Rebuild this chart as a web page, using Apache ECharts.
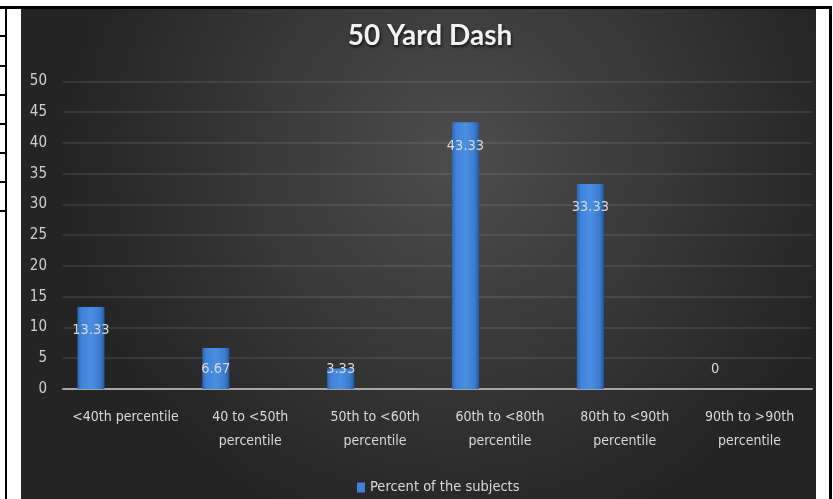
<!DOCTYPE html>
<html>
<head>
<meta charset="utf-8">
<script src="https://cdn.jsdelivr.net/npm/echarts@6/dist/echarts.min.js"></script>
<style>
  html, body { margin: 0; padding: 0; background: #ffffff; width: 833px; height: 499px; overflow: hidden; position: relative; }
  .ln { position: absolute; background: #000; }
  #chart { position: absolute; left: 21px; top: 9px; width: 795px; height: 490px; }
</style>
</head>
<body>
<div class="ln" style="left:0;top:6px;width:832px;height:3px"></div>
<div class="ln" style="left:5px;top:6px;width:2px;height:493px"></div>
<div class="ln" style="left:829px;top:6px;width:3px;height:493px"></div>
<div class="ln" style="left:0;top:35px;width:6px;height:2px"></div>
<div class="ln" style="left:0;top:65px;width:6px;height:2px"></div>
<div class="ln" style="left:0;top:94px;width:6px;height:2px"></div>
<div class="ln" style="left:0;top:123px;width:6px;height:2px"></div>
<div class="ln" style="left:0;top:152px;width:6px;height:2px"></div>
<div class="ln" style="left:0;top:181px;width:6px;height:2px"></div>
<div class="ln" style="left:0;top:210px;width:6px;height:2px"></div>
<div id="chart"></div>
<script>
const titleText = '50 Yard Dash';
const seriesName = 'Percent of the subjects';
const categories = ['<40th percentile', '40 to <50th\npercentile', '50th to <60th\npercentile', '60th to <80th\npercentile', '80th to <90th\npercentile', '90th to >90th\npercentile'];
const values = [13.33, 6.67, 3.33, 43.33, 33.33, 0];
const yMin = 0, yMax = 50, yStep = 5;

const FONT = '"DejaVu Sans Condensed", "Noto Sans", sans-serif';
const TFONT = 'Lato';
const chart = echarts.init(document.getElementById('chart'));

const barColor = {
  type: 'linear', x: 0, y: 0, x2: 1, y2: 0,
  colorStops: [
    { offset: 0, color: '#2f66b3' },
    { offset: 0.15, color: '#3f82d8' },
    { offset: 0.5, color: '#4a8fe3' },
    { offset: 0.85, color: '#3a7ace' },
    { offset: 1, color: '#2558a0' }
  ]
};

const barData = values.map(v => {
  const small = v < 8;
  return {
    value: v,
    label: small ? { position: 'insideBottom', distance: 12 } : { position: 'insideTop', distance: 16 }
  };
});

chart.setOption({
  backgroundColor: {
    type: 'radial', x: 0.55, y: 0.3, r: 0.8,
    colorStops: [
      { offset: 0, color: '#4d4d4d' },
      { offset: 1, color: '#242424' }
    ]
  },
  animation: false,
  title: {
    text: titleText,
    left: 404,
    textAlign: 'center',
    top: 8,
    textStyle: {
      fontFamily: TFONT, fontWeight: 'bold', fontSize: 28, color: '#f2f2f2',
      textShadowColor: 'rgba(0,0,0,0.7)', textShadowBlur: 3, textShadowOffsetX: 1, textShadowOffsetY: 2
    }
  },
  legend: {
    data: [seriesName],
    left: 331, top: 466,
    icon: 'rect', itemWidth: 8, itemHeight: 10,
    textStyle: { fontFamily: FONT, fontSize: 14.5, color: '#d9d9d9' },
    itemStyle: { color: '#3f82d8' }
  },
  grid: { left: 42, right: 4, top: 72.3, bottom: 110, containLabel: false },
  xAxis: {
    type: 'category',
    data: categories,
    axisLine: { lineStyle: { color: '#a6a6a6', width: 2 } },
    axisTick: { show: false },
    axisLabel: { fontFamily: FONT, fontSize: 14, color: '#d9d9d9', margin: 16, lineHeight: 24, interval: 0 }
  },
  yAxis: {
    type: 'value', min: yMin, max: yMax, interval: yStep,
    axisLine: { show: false }, axisTick: { show: false },
    axisLabel: { fontFamily: FONT, fontSize: 15, color: '#d0d0d0', margin: 16 },
    splitLine: { lineStyle: { color: 'rgba(255,255,255,0.12)', width: 1.5 } }
  },
  series: [
    {
      name: seriesName, type: 'bar', data: barData, barWidth: 27, barGap: '155%',
      itemStyle: { color: barColor },
      label: { show: true, fontFamily: FONT, fontSize: 14.5, color: '#d9d9d9', formatter: p => String(p.value) }
    },
    {
      name: 'spacer', type: 'bar', data: values.map(() => null), barWidth: 27
    }
  ]
});
</script>
</body>
</html>
